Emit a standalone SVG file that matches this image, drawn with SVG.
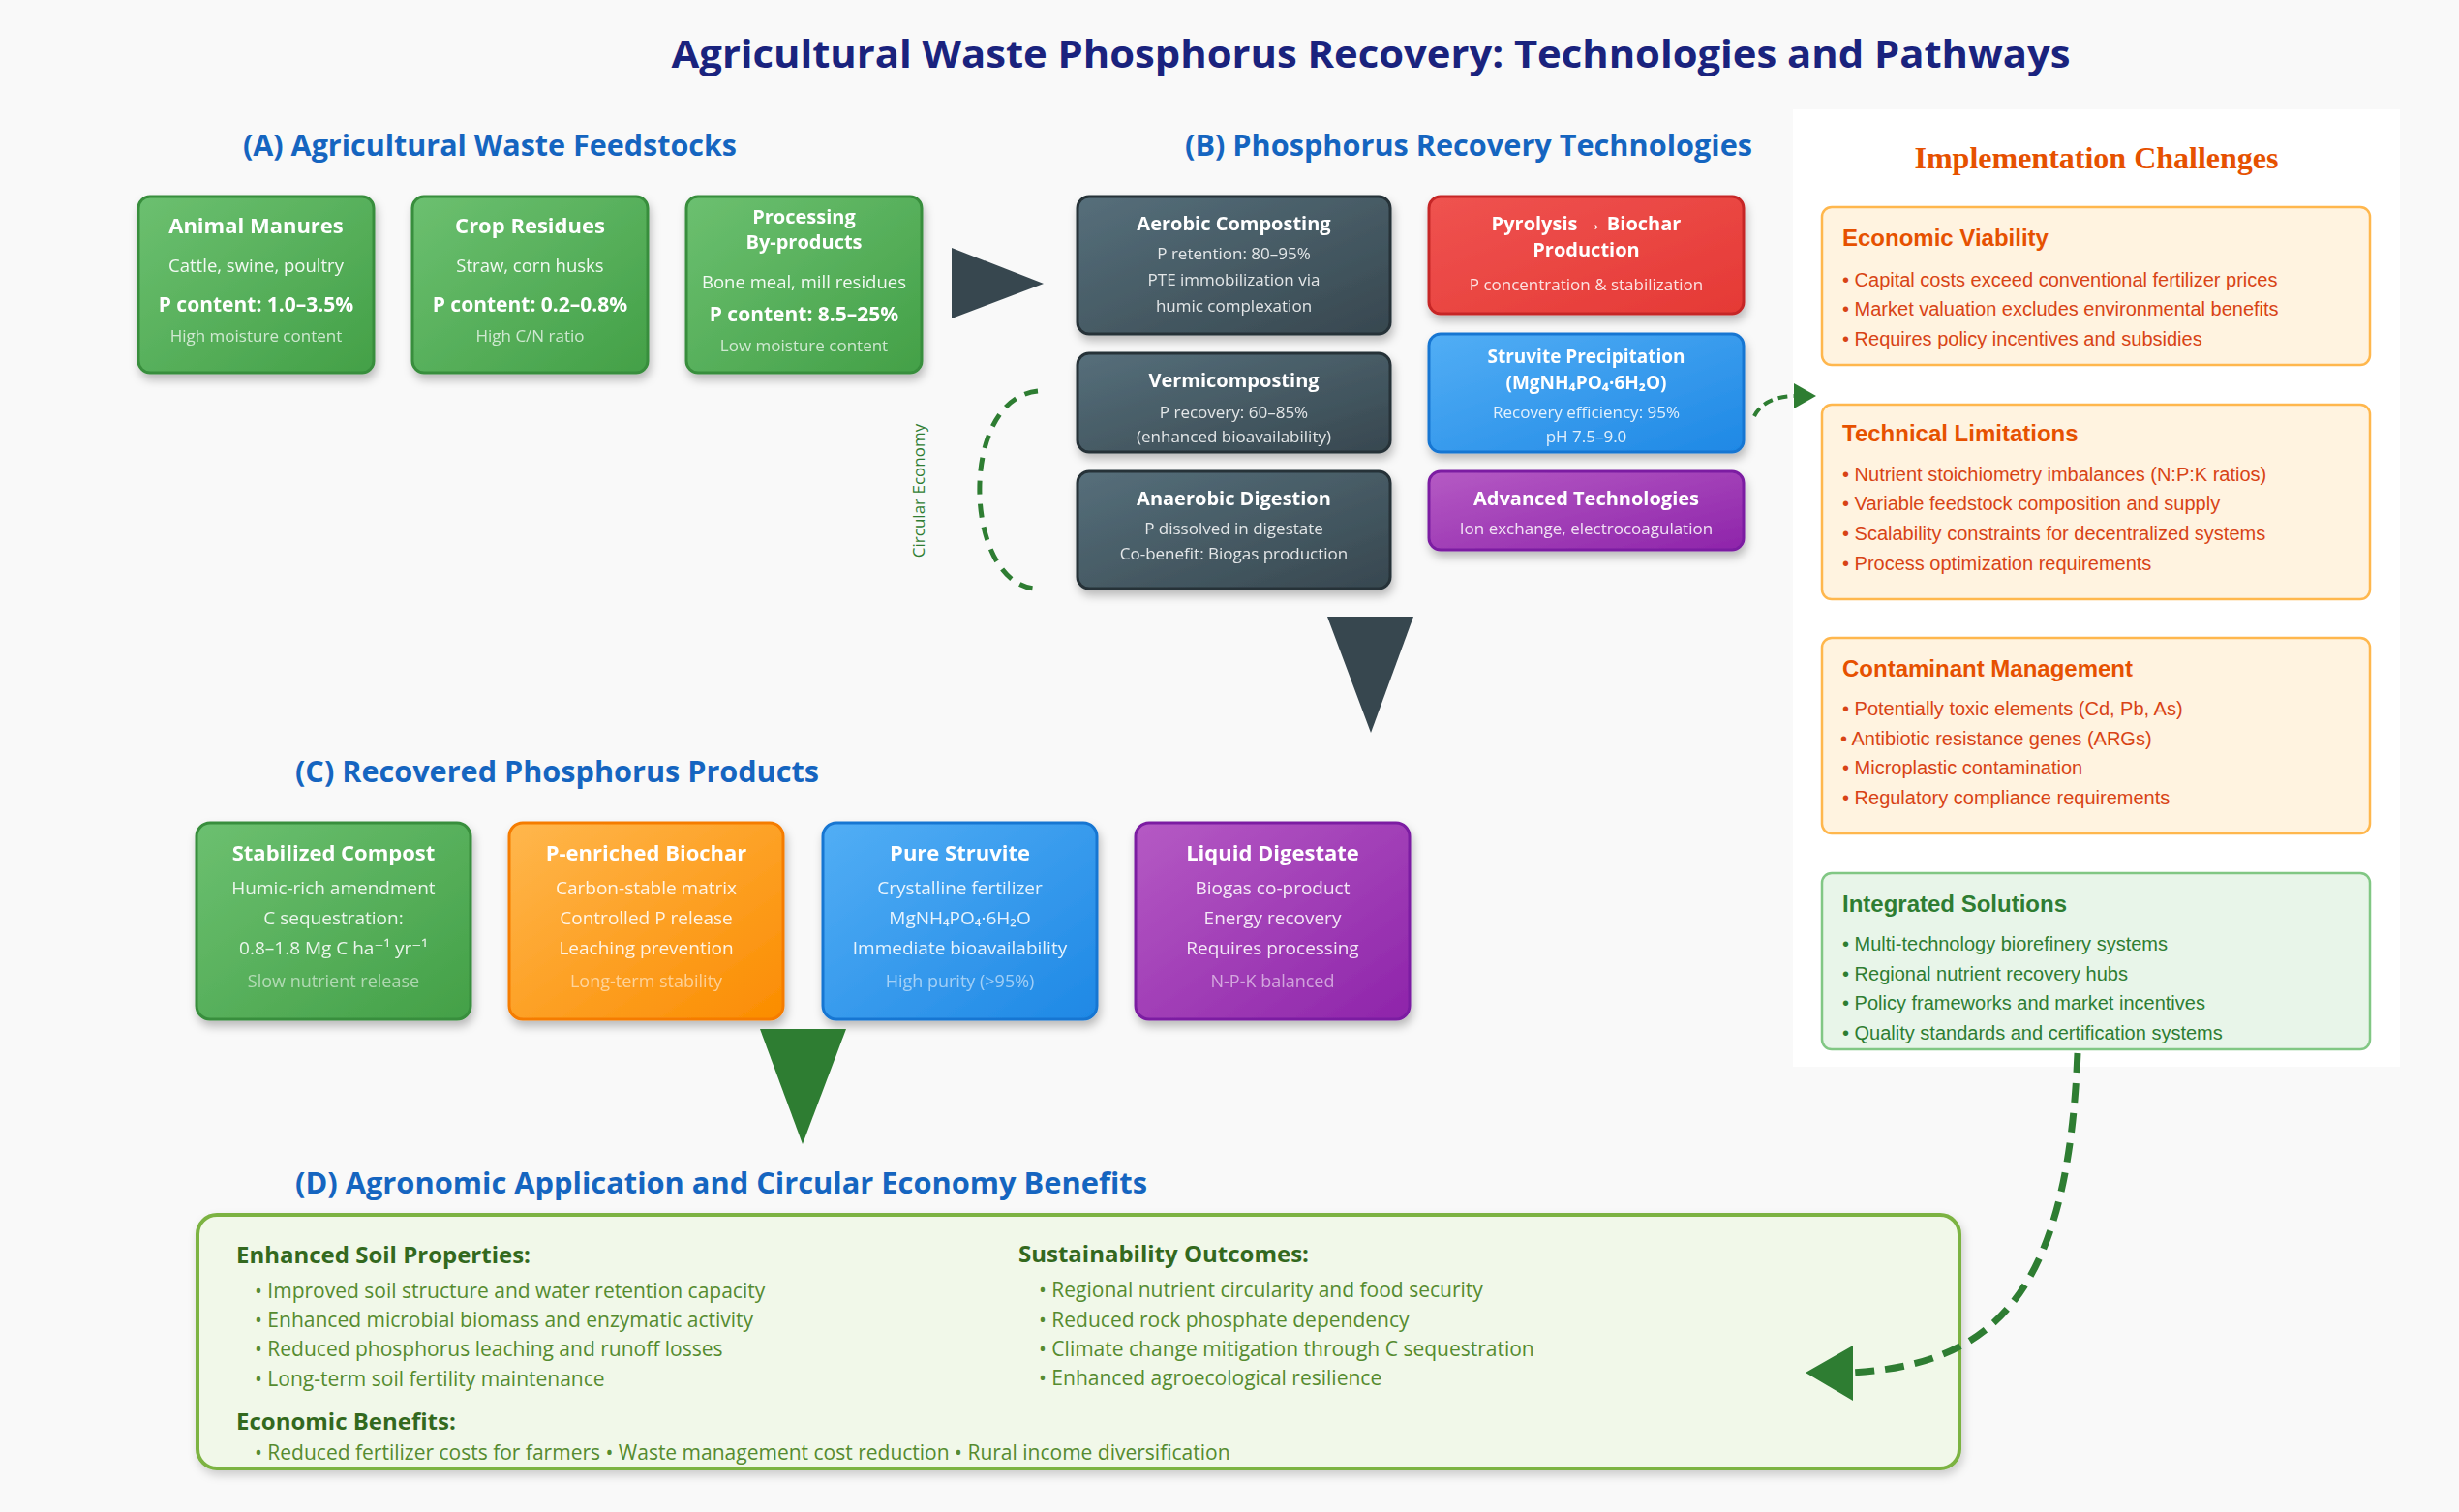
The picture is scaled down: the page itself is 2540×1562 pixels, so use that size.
<svg xmlns="http://www.w3.org/2000/svg" width="2540" height="1562" viewBox="0 0 2540 1562">
<defs>
<style>
.title{font-family:"Open Sans","Liberation Sans",sans-serif;font-weight:700;font-size:40px;fill:#1a237e}
.sec{font-family:"Open Sans","Liberation Sans",sans-serif;font-weight:700;font-size:30px;fill:#1565c0}
.nt{font-family:"Open Sans","Liberation Sans",sans-serif;font-weight:700;font-size:22px;fill:#fff;text-anchor:middle}
.nt2{font-family:"Open Sans","Liberation Sans",sans-serif;font-weight:700;font-size:20px;fill:#fff;text-anchor:middle}
.nb{font-family:"Open Sans","Liberation Sans","DejaVu Sans",sans-serif;font-size:18.5px;fill:#fff;fill-opacity:0.92;text-anchor:middle}
.nbB{font-family:"Open Sans","Liberation Sans","DejaVu Sans",sans-serif;font-size:17px;fill:#fff;fill-opacity:0.85;text-anchor:middle}
.nbC{font-family:"Open Sans","Liberation Sans","DejaVu Sans",sans-serif;font-size:19px;fill:#fff;fill-opacity:0.88;text-anchor:middle}
.pc{font-family:"Open Sans","Liberation Sans",sans-serif;font-weight:700;font-size:21px;fill:#fff;text-anchor:middle}
.fade{font-family:"Open Sans","Liberation Sans",sans-serif;font-size:17px;fill:#fff;fill-opacity:0.72;text-anchor:middle}
.fadeC{font-family:"Open Sans","Liberation Sans",sans-serif;font-size:18px;fill:#fff;fill-opacity:0.55;text-anchor:middle}
.chal{font-family:"Liberation Serif","Times New Roman",serif;font-weight:700;font-size:32px;fill:#e65100;text-anchor:middle}
.ct{font-family:"Liberation Sans",Arial,sans-serif;font-weight:700;font-size:24px;fill:#e65100}
.cb{font-family:"Liberation Sans",Arial,sans-serif;font-size:20px;fill:#d84315}
.gt{font-family:"Liberation Sans",Arial,sans-serif;font-weight:700;font-size:24px;fill:#2e7d32}
.gb{font-family:"Liberation Sans",Arial,sans-serif;font-size:20px;fill:#2e7d32}
.dh{font-family:"Open Sans","Liberation Sans",sans-serif;font-weight:700;font-size:24px;fill:#33691e}
.db{font-family:"Open Sans","Liberation Sans",sans-serif;font-size:21px;fill:#558b2f}
.box-o{fill:#fff3e0;stroke:#ffb74d;stroke-width:2.5}
.box-g{fill:#e8f5e9;stroke:#81c784;stroke-width:2.5}
.dash{fill:none;stroke:#2e7d32;stroke-linecap:butt}
</style>
<linearGradient id="gGreen" x1="0" y1="0" x2="1" y2="1"><stop offset="0" stop-color="#6cc070"/><stop offset="1" stop-color="#43a047"/></linearGradient>
<linearGradient id="gSlate" x1="0" y1="0" x2="1" y2="1"><stop offset="0" stop-color="#566f7b"/><stop offset="1" stop-color="#37474f"/></linearGradient>
<linearGradient id="gRed" x1="0" y1="0" x2="1" y2="1"><stop offset="0" stop-color="#ef5350"/><stop offset="1" stop-color="#e53935"/></linearGradient>
<linearGradient id="gBlue" x1="0" y1="0" x2="1" y2="1"><stop offset="0" stop-color="#52aef5"/><stop offset="1" stop-color="#1e88e5"/></linearGradient>
<linearGradient id="gPurple" x1="0" y1="0" x2="1" y2="1"><stop offset="0" stop-color="#b55ac4"/><stop offset="1" stop-color="#8e24aa"/></linearGradient>
<linearGradient id="gOrange" x1="0" y1="0" x2="1" y2="1"><stop offset="0" stop-color="#ffb74d"/><stop offset="1" stop-color="#fb8c00"/></linearGradient>
<filter id="sh" x="-10%" y="-10%" width="125%" height="135%"><feDropShadow dx="2" dy="6" stdDeviation="5" flood-color="#000" flood-opacity="0.25"/></filter>
<filter id="shs" x="-5%" y="-5%" width="110%" height="115%"><feDropShadow dx="2" dy="5" stdDeviation="5" flood-color="#000" flood-opacity="0.18"/></filter>
</defs>

<rect x="0" y="0" width="2540" height="1562" fill="#f9f9f9"/>

<text class="title" x="1416" y="70" text-anchor="middle" textLength="1445" lengthAdjust="spacingAndGlyphs">Agricultural Waste Phosphorus Recovery: Technologies and Pathways</text>

<text class="sec" x="251" y="161" textLength="510" lengthAdjust="spacingAndGlyphs">(A) Agricultural Waste Feedstocks</text>
<text class="sec" x="1224" y="161" textLength="586" lengthAdjust="spacingAndGlyphs">(B) Phosphorus Recovery Technologies</text>
<text class="sec" x="305" y="808" textLength="541" lengthAdjust="spacingAndGlyphs">(C) Recovered Phosphorus Products</text>
<text class="sec" x="305" y="1233" textLength="880" lengthAdjust="spacingAndGlyphs">(D) Agronomic Application and Circular Economy Benefits</text>

<!-- (A) feedstocks -->
<g id="node-animal-manures" filter="url(#sh)">
<rect x="143" y="203" width="243" height="182" rx="12" fill="url(#gGreen)" stroke="#388e3c" stroke-width="3"/>
<text class="nt" x="264.5" y="241">Animal Manures</text>
<text class="nb" x="264.5" y="281">Cattle, swine, poultry</text>
<text class="pc" x="264.5" y="322">P content: 1.0–3.5%</text>
<text class="fade" x="264.5" y="353">High moisture content</text>
</g>
<g id="node-crop-residues" filter="url(#sh)">
<rect x="426" y="203" width="243" height="182" rx="12" fill="url(#gGreen)" stroke="#388e3c" stroke-width="3"/>
<text class="nt" x="547.5" y="241">Crop Residues</text>
<text class="nb" x="547.5" y="281">Straw, corn husks</text>
<text class="pc" x="547.5" y="322">P content: 0.2–0.8%</text>
<text class="fade" x="547.5" y="353">High C/N ratio</text>
</g>
<g id="node-processing-byproducts" filter="url(#sh)">
<rect x="709" y="203" width="243" height="182" rx="12" fill="url(#gGreen)" stroke="#388e3c" stroke-width="3"/>
<text class="nt2" x="830.5" y="231">Processing</text>
<text class="nt2" x="830.5" y="257">By-products</text>
<text class="nb" x="830.5" y="298">Bone meal, mill residues</text>
<text class="pc" x="830.5" y="332">P content: 8.5–25%</text>
<text class="fade" x="830.5" y="363">Low moisture content</text>
</g>

<!-- (B) technologies -->
<g id="node-aerobic-composting" filter="url(#sh)">
<rect x="1113" y="203" width="323" height="142" rx="12" fill="url(#gSlate)" stroke="#263238" stroke-width="3"/>
<text class="nt2" x="1274.5" y="238">Aerobic Composting</text>
<text class="nbB" x="1274.5" y="268">P retention: 80–95%</text>
<text class="nbB" x="1274.5" y="295">PTE immobilization via</text>
<text class="nbB" x="1274.5" y="322">humic complexation</text>
</g>
<g id="node-vermicomposting" filter="url(#sh)">
<rect x="1113" y="365" width="323" height="102" rx="12" fill="url(#gSlate)" stroke="#263238" stroke-width="3"/>
<text class="nt2" x="1274.5" y="400">Vermicomposting</text>
<text class="nbB" x="1274.5" y="432">P recovery: 60–85%</text>
<text class="nbB" x="1274.5" y="457">(enhanced bioavailability)</text>
</g>
<g id="node-anaerobic-digestion" filter="url(#sh)">
<rect x="1113" y="487" width="323" height="121" rx="12" fill="url(#gSlate)" stroke="#263238" stroke-width="3"/>
<text class="nt2" x="1274.5" y="522">Anaerobic Digestion</text>
<text class="nbB" x="1274.5" y="552">P dissolved in digestate</text>
<text class="nbB" x="1274.5" y="578">Co-benefit: Biogas production</text>
</g>
<g id="node-pyrolysis" filter="url(#sh)">
<rect x="1476" y="203" width="325" height="121" rx="12" fill="url(#gRed)" stroke="#c62828" stroke-width="3"/>
<text class="nt2" x="1638.5" y="238">Pyrolysis → Biochar</text>
<text class="nt2" x="1638.5" y="265">Production</text>
<text class="nbB" x="1638.5" y="300">P concentration &amp; stabilization</text>
</g>
<g id="node-struvite-precipitation" filter="url(#sh)">
<rect x="1476" y="345" width="325" height="122" rx="12" fill="url(#gBlue)" stroke="#1976d2" stroke-width="3"/>
<text class="nt2" x="1638.5" y="375" style="font-size:19px">Struvite Precipitation</text>
<text class="nt2" x="1638.5" y="402" style="font-size:19px">(MgNH₄PO₄·6H₂O)</text>
<text class="nbB" x="1638.5" y="432">Recovery efficiency: 95%</text>
<text class="nbB" x="1638.5" y="457">pH 7.5–9.0</text>
</g>
<g id="node-advanced-technologies" filter="url(#sh)">
<rect x="1476" y="487" width="325" height="81" rx="12" fill="url(#gPurple)" stroke="#7b1fa2" stroke-width="3"/>
<text class="nt2" x="1638.5" y="522">Advanced Technologies</text>
<text class="nbB" x="1638.5" y="552">Ion exchange, electrocoagulation</text>
</g>

<!-- (C) products -->
<g id="node-stabilized-compost" filter="url(#sh)">
<rect x="203" y="850" width="283" height="203" rx="14" fill="url(#gGreen)" stroke="#388e3c" stroke-width="3"/>
<text class="nt" x="344.5" y="889">Stabilized Compost</text>
<text class="nbC" x="344.5" y="924">Humic-rich amendment</text>
<text class="nbC" x="344.5" y="955">C sequestration:</text>
<text class="nbC" x="344.5" y="986">0.8–1.8 Mg C ha⁻¹ yr⁻¹</text>
<text class="fadeC" x="344.5" y="1020">Slow nutrient release</text>
</g>
<g id="node-p-enriched-biochar" filter="url(#sh)">
<rect x="526" y="850" width="283" height="203" rx="14" fill="url(#gOrange)" stroke="#f57c00" stroke-width="3"/>
<text class="nt" x="667.5" y="889">P-enriched Biochar</text>
<text class="nbC" x="667.5" y="924">Carbon-stable matrix</text>
<text class="nbC" x="667.5" y="955">Controlled P release</text>
<text class="nbC" x="667.5" y="986">Leaching prevention</text>
<text class="fadeC" x="667.5" y="1020">Long-term stability</text>
</g>
<g id="node-pure-struvite" filter="url(#sh)">
<rect x="850" y="850" width="283" height="203" rx="14" fill="url(#gBlue)" stroke="#1976d2" stroke-width="3"/>
<text class="nt" x="991.5" y="889">Pure Struvite</text>
<text class="nbC" x="991.5" y="924">Crystalline fertilizer</text>
<text class="nbC" x="991.5" y="955">MgNH₄PO₄·6H₂O</text>
<text class="nbC" x="991.5" y="986">Immediate bioavailability</text>
<text class="fadeC" x="991.5" y="1020">High purity (&gt;95%)</text>
</g>
<g id="node-liquid-digestate" filter="url(#sh)">
<rect x="1173" y="850" width="283" height="203" rx="14" fill="url(#gPurple)" stroke="#7b1fa2" stroke-width="3"/>
<text class="nt" x="1314.5" y="889">Liquid Digestate</text>
<text class="nbC" x="1314.5" y="924">Biogas co-product</text>
<text class="nbC" x="1314.5" y="955">Energy recovery</text>
<text class="nbC" x="1314.5" y="986">Requires processing</text>
<text class="fadeC" x="1314.5" y="1020">N-P-K balanced</text>
</g>

<!-- Implementation challenges panel -->
<g id="node-challenges">
<rect x="1852" y="113" width="627" height="989" fill="#ffffff"/>
<text class="chal" x="2165.5" y="174">Implementation Challenges</text>
</g>
<g id="node-economic-viability">
<rect class="box-o" x="1882" y="214" width="566" height="163" rx="10"/>
<text class="ct" x="1903" y="254">Economic Viability</text>
<text class="cb" x="1903" y="296">• Capital costs exceed conventional fertilizer prices</text>
<text class="cb" x="1903" y="326">• Market valuation excludes environmental benefits</text>
<text class="cb" x="1903" y="357">• Requires policy incentives and subsidies</text>
</g>
<g id="node-technical-limitations">
<rect class="box-o" x="1882" y="418" width="566" height="201" rx="10"/>
<text class="ct" x="1903" y="456">Technical Limitations</text>
<text class="cb" x="1903" y="497">• Nutrient stoichiometry imbalances (N:P:K ratios)</text>
<text class="cb" x="1903" y="527">• Variable feedstock composition and supply</text>
<text class="cb" x="1903" y="558">• Scalability constraints for decentralized systems</text>
<text class="cb" x="1903" y="589">• Process optimization requirements</text>
</g>
<g id="node-contaminant-management">
<rect class="box-o" x="1882" y="659" width="566" height="202" rx="10"/>
<text class="ct" x="1903" y="699">Contaminant Management</text>
<text class="cb" x="1903" y="739">• Potentially toxic elements (Cd, Pb, As)</text>
<text class="cb" x="1901" y="770">• Antibiotic resistance genes (ARGs)</text>
<text class="cb" x="1903" y="800">• Microplastic contamination</text>
<text class="cb" x="1903" y="831">• Regulatory compliance requirements</text>
</g>
<g id="node-integrated-solutions">
<rect class="box-g" x="1882" y="902" width="566" height="182" rx="10"/>
<text class="gt" x="1903" y="942">Integrated Solutions</text>
<text class="gb" x="1903" y="982">• Multi-technology biorefinery systems</text>
<text class="gb" x="1903" y="1013">• Regional nutrient recovery hubs</text>
<text class="gb" x="1903" y="1043">• Policy frameworks and market incentives</text>
<text class="gb" x="1903" y="1074">• Quality standards and certification systems</text>
</g>

<!-- (D) benefits -->
<g id="node-benefits">
<rect x="204" y="1255" width="1820" height="262" rx="20" fill="#f1f8e9" stroke="#7cb342" stroke-width="4" filter="url(#shs)"/>
<text class="dh" x="244" y="1305">Enhanced Soil Properties:</text>
<text class="db" x="263" y="1341">• Improved soil structure and water retention capacity</text>
<text class="db" x="263" y="1371">• Enhanced microbial biomass and enzymatic activity</text>
<text class="db" x="263" y="1401">• Reduced phosphorus leaching and runoff losses</text>
<text class="db" x="263" y="1432">• Long-term soil fertility maintenance</text>
<text class="dh" x="1052" y="1304">Sustainability Outcomes:</text>
<text class="db" x="1073" y="1340">• Regional nutrient circularity and food security</text>
<text class="db" x="1073" y="1371">• Reduced rock phosphate dependency</text>
<text class="db" x="1073" y="1401">• Climate change mitigation through C sequestration</text>
<text class="db" x="1073" y="1431">• Enhanced agroecological resilience</text>
<text class="dh" x="244" y="1477">Economic Benefits:</text>
<text class="db" x="263" y="1508">• Reduced fertilizer costs for farmers • Waste management cost reduction • Rural income diversification</text>
</g>

<!-- connectors -->
<g id="connectors">
<polygon points="983,256 983,329 1078,293" fill="#37474f"/>
<polygon points="1371,637 1460,637 1416,757" fill="#37474f"/>
<polygon points="785,1063 874,1063 829,1182" fill="#2e7d32"/>
<path class="dash" d="M 1072 404 C 990 412, 995 600, 1068 608" stroke-width="5" stroke-dasharray="14 10"/>
<text x="955" y="507" transform="rotate(-90 955 507)" text-anchor="middle" font-family="Open Sans, Liberation Sans, sans-serif" font-size="17" fill="#2e7d32">Circular Economy</text>
<path class="dash" d="M 1812 430 Q 1822 410 1853 409" stroke-width="4" stroke-dasharray="10 6"/>
<polygon points="1853,396 1876,409 1853,422" fill="#2e7d32"/>
<path class="dash" d="M 2146 1088 C 2136 1330, 2065 1410, 1912 1418" stroke-width="7" stroke-dasharray="20 11"/>
<polygon points="1914,1390 1865,1418 1914,1447" fill="#2e7d32"/>
</g>
</svg>
